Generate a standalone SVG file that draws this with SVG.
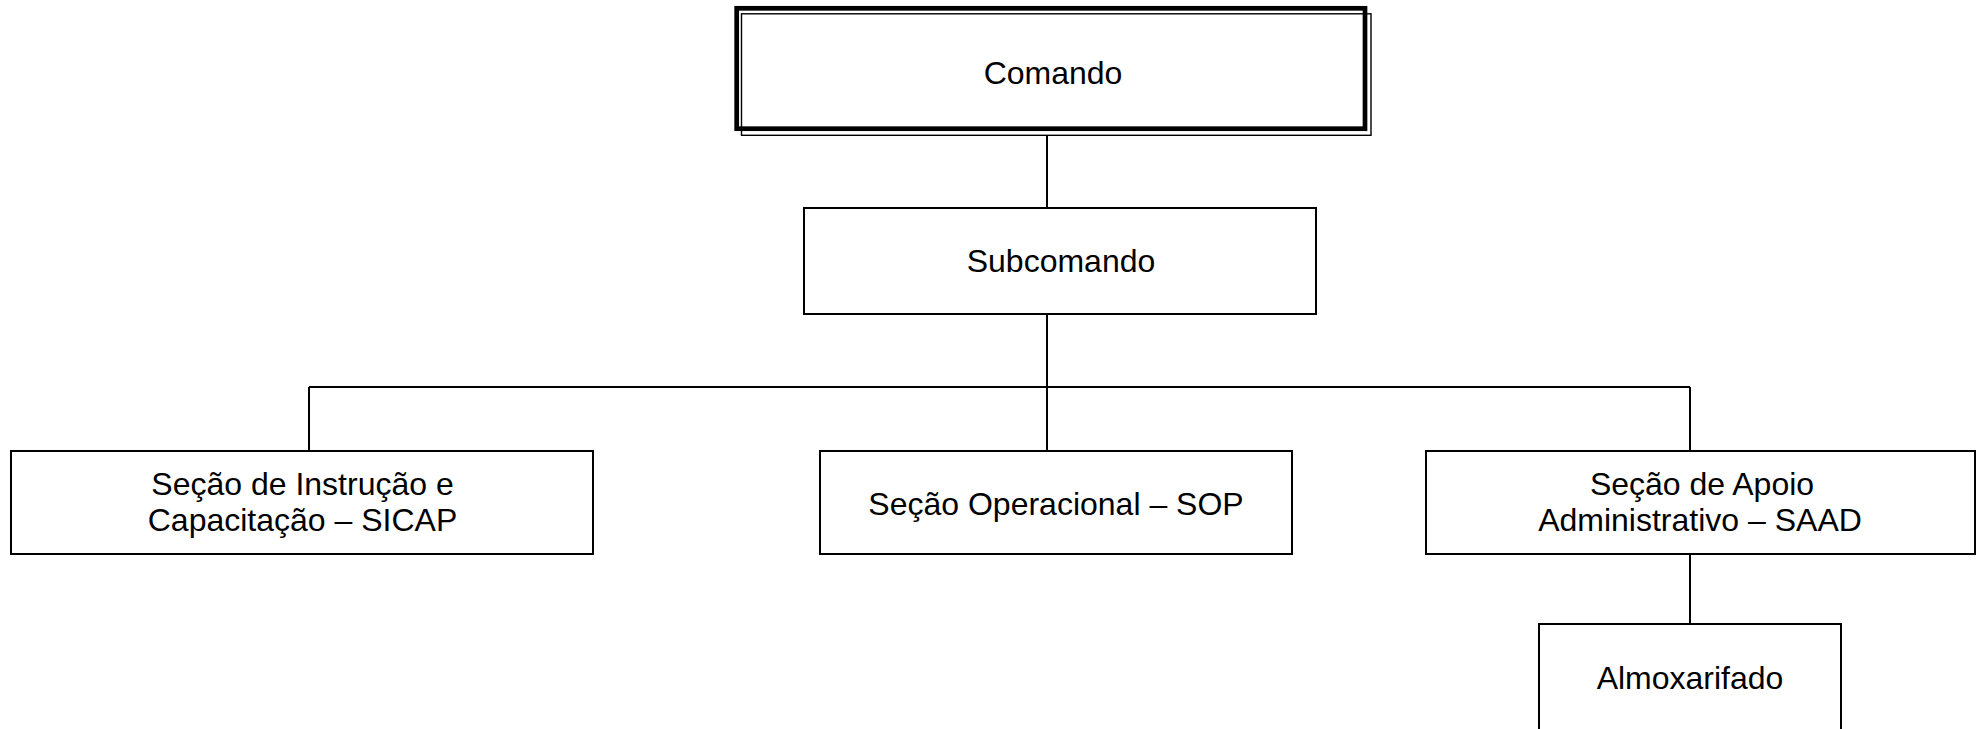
<svg xmlns="http://www.w3.org/2000/svg" width="1979" height="729" viewBox="0 0 1979 729">
<style>
.box{fill:#fff;stroke:#000;stroke-width:2}
.lbl{font-family:"Liberation Sans",Arial,sans-serif;font-size:32px;fill:#000;text-anchor:middle}
.conn{fill:none;stroke:#000;stroke-width:2}
</style>
<rect width="1979" height="729" fill="#fff"/>
<g id="connectors">
<line class="conn" x1="1047" y1="136" x2="1047" y2="208"/>
<line class="conn" x1="1047" y1="314" x2="1047" y2="451"/>
<line class="conn" x1="309" y1="387" x2="1690" y2="387"/>
<line class="conn" x1="309" y1="387" x2="309" y2="451"/>
<line class="conn" x1="1690" y1="387" x2="1690" y2="451"/>
<line class="conn" x1="1690" y1="554" x2="1690" y2="624"/>
</g>
<g id="comando">
<rect x="736.7" y="8.3" width="628.3" height="120.4" fill="#fff" stroke="#000" stroke-width="4.7"/>
<rect x="741.5" y="13.8" width="629.5" height="121.5" fill="none" stroke="#000" stroke-width="1.4"/>
<text class="lbl" x="1053" y="84">Comando</text>
</g>
<g id="subcomando">
<rect class="box" x="804" y="208" width="512" height="106"/>
<text class="lbl" x="1061" y="272">Subcomando</text>
</g>
<g id="sicap">
<rect class="box" x="11" y="451" width="582" height="103"/>
<text class="lbl" x="302.5" y="495">Seção de Instrução e</text>
<text class="lbl" x="302.5" y="531">Capacitação – SICAP</text>
</g>
<g id="sop">
<rect class="box" x="820" y="451" width="472" height="103"/>
<text class="lbl" x="1056" y="515">Seção Operacional – SOP</text>
</g>
<g id="saad">
<rect class="box" x="1426" y="451" width="549" height="103"/>
<text class="lbl" x="1702" y="495">Seção de Apoio</text>
<text class="lbl" x="1700" y="531">Administrativo – SAAD</text>
</g>
<g id="almoxarifado">
<rect class="box" x="1539" y="624" width="302" height="115"/>
<text class="lbl" x="1690" y="689">Almoxarifado</text>
</g>
</svg>
